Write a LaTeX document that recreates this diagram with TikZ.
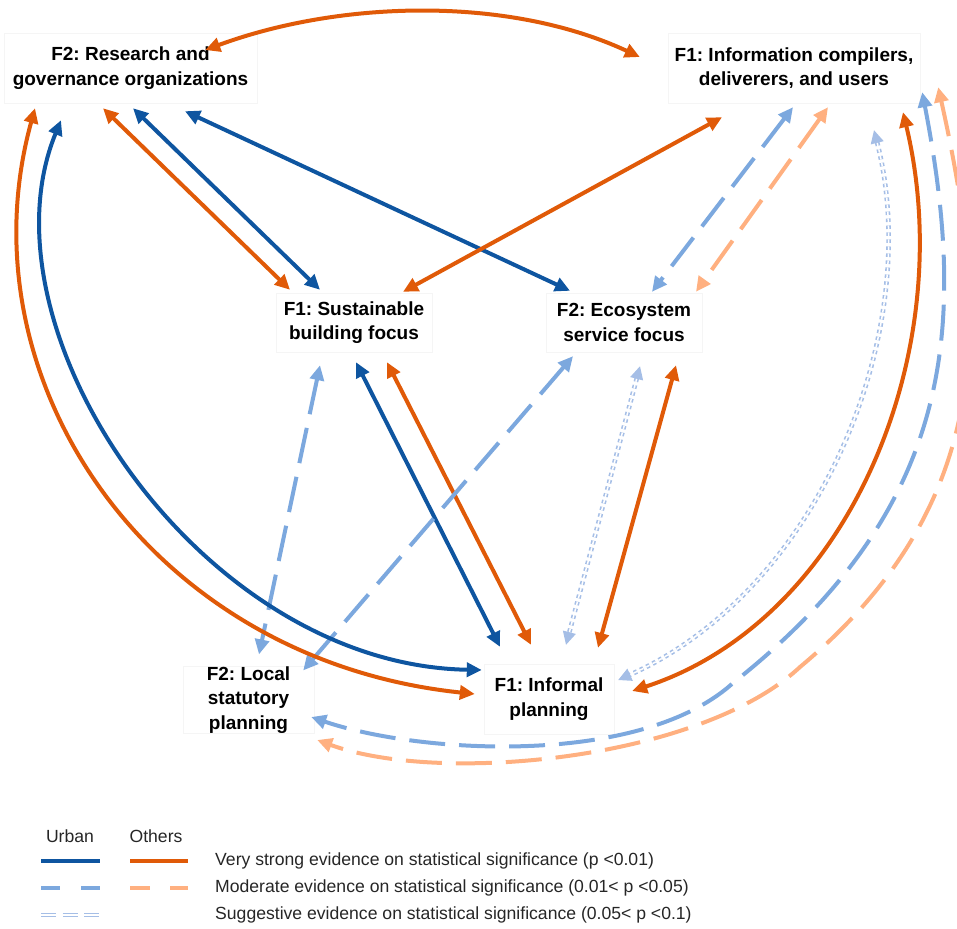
\documentclass[tikz,border=0pt]{standalone}
\usepackage{fontspec}
\setmainfont{Liberation Sans}
\usetikzlibrary{arrows.meta}

\definecolor{urbanblue}{RGB}{14,85,160}
\definecolor{othersorange}{RGB}{224,90,8}
\definecolor{urbanlight}{RGB}{124,168,222}
\definecolor{otherslight}{RGB}{255,176,128}
\definecolor{urbanpale}{RGB}{165,190,230}

\tikzset{
  factor/.style={draw=black!4, align=center, inner sep=0pt,
    font=\fontsize{19}{24.5}\selectfont\bfseries\frenchspacing},
  legtext/.style={font=\fontsize{17.6}{20}\selectfont\frenchspacing, text=black!85, inner sep=0pt},
  veryU/.style={draw=urbanblue, line width=4pt, <->},
  veryO/.style={draw=othersorange, line width=4pt, <->},
  modU/.style={draw=urbanlight, line width=4pt, dash pattern=on 36pt off 14pt, <->},
  modO/.style={draw=otherslight, line width=4pt, dash pattern=on 36pt off 14pt, <->},
  sugU/.style={draw=urbanpale, line width=1.6pt, double=white, double distance=1.5pt,
    dash pattern=on 3.5pt off 3.5pt, <->, >={Triangle[length=13pt,width=13pt]}},
}

\begin{document}
\begin{tikzpicture}[x=1pt, y=-1pt, >={Triangle[length=15pt,width=14pt]}]

        \useasboundingbox (0,0) rectangle (957,928);

        \begin{scope}[every node/.style={factor}]
          \node[minimum width=253pt, minimum height=70pt] (1) at (130.5,68)  {F2: Research and\\governance organizations};
          \node[minimum width=252pt, minimum height=70pt] (2) at (794,68)    {F1: Information compilers,\\deliverers, and users};
          \node[minimum width=156pt, minimum height=59pt] (3) at (354,322.5) {F1: Sustainable\\building focus};
          \node[minimum width=156pt, minimum height=59pt] (4) at (624,322.5) {F2: Ecosystem\\service focus};
          \node[minimum width=131pt, minimum height=66pt] (5) at (248.5,700) {F2: Local\\statutory\\planning};
          \node[minimum width=130pt, minimum height=70pt] (6) at (549,699)   {F1: Informal\\planning};
        \end{scope}

        % straight links
        \begin{scope}[every edge/.style={draw}]
          \path ([xshift=-27.5pt,yshift=-5pt]1.south) edge[veryO] ([xshift=-64pt,yshift=3pt]3.north);
          \path ([xshift=2.5pt,yshift=-5pt]1.south)   edge[veryU] ([xshift=-34pt,yshift=3pt]3.north);
          \path ([xshift=54.5pt,yshift=-8pt]1.south)  edge[veryU] ([xshift=-54pt,yshift=2pt]4.north);
          \path ([xshift=-72pt,yshift=-14pt]2.south)  edge[veryO] ([xshift=49pt,yshift=1pt]3.north);
          \path ([xshift=-1pt,yshift=-4pt]2.south)    edge[modU]  ([xshift=28pt,yshift=1pt]4.north);
          \path ([xshift=34pt,yshift=-4pt]2.south)    edge[modO]  ([xshift=72pt,yshift=1pt]4.north);
          \path ([xshift=-34pt,yshift=-13pt]3.south)  edge[modU]  ([xshift=10.5pt,yshift=12pt]5.north);
          \path ([xshift=2pt,yshift=-10pt]3.south)    edge[veryU] ([xshift=-49pt,yshift=17pt]6.north);
          \path ([xshift=33pt,yshift=-10pt]3.south)   edge[veryO] ([xshift=-18pt,yshift=19pt]6.north);
          \path ([xshift=-51pt,yshift=-4pt]4.south)   edge[modU]  ([xshift=-11pt,yshift=-4pt]5.north east);
          \path ([xshift=16pt,yshift=-14pt]4.south)   edge[sugU]  ([xshift=17pt,yshift=19pt]6.north);
          \path ([xshift=52pt,yshift=-13pt]4.south)   edge[veryO] ([xshift=49pt,yshift=16pt]6.north);
        \end{scope}

        % curved links
        \draw[veryO] ([xshift=-52pt,yshift=18pt]1.east) .. controls (341,0) and (509,-4) .. ([xshift=-28pt,yshift=11pt]2.west);
        \draw[veryO] ([xshift=-95.5pt,yshift=-5pt]1.south) .. controls (-40,380) and (150,660) .. ([xshift=-9pt,yshift=5pt]6.west);
        \draw[veryU] ([xshift=-69.5pt,yshift=-17pt]1.south) .. controls (-25,330) and (200,665) .. ([xshift=-2pt,yshift=29pt]6.west);
        \draw[veryO] ([xshift=109pt,yshift=-9pt]2.south) .. controls (960,350) and (850,620) .. ([xshift=18pt,yshift=8pt]6.east);
        \draw[sugU] ([xshift=80pt,yshift=-27pt]2.south) .. controls (925,330) and (820,590) .. ([xshift=4pt,yshift=19pt]6.east);
        \draw[modU] ([xshift=2pt,yshift=11pt]2.south east) .. controls (968,330) and (953,509) .. (733,683)
          .. controls (640,767) and (420,754) .. ([xshift=-3pt,yshift=-17pt]5.east);
        \draw[modO] ([xshift=18pt,yshift=16pt]2.south east) .. controls (990,320) and (995,504) .. (800,667)
          .. controls (700,760) and (440,785) .. ([xshift=3pt,yshift=-40pt]5.east);

        % legend
        \begin{scope}[every node/.style={legtext}]
          \node (7)  at (70,836)  {Urban};
          \node (8)  at (156,836) {Others};
          \node[anchor=west] (9)  at (215,861) {Very strong evidence on statistical significance (p <0.01)};
          \node[anchor=west] (10) at (215,888) {Moderate evidence on statistical significance (0.01< p <0.05)};
          \node[anchor=west] (11) at (215,915) {Suggestive evidence on statistical significance (0.05< p <0.1)};
        \end{scope}

        \draw[urbanblue, line width=4.5pt] (41,861) -- (100,861);
        \draw[othersorange, line width=4.5pt] (130,861) -- (188,861);
        \draw[urbanlight, line width=4.5pt, dash pattern=on 19pt off 21pt] (41,888) -- (100,888);
        \draw[otherslight, line width=4.5pt, dash pattern=on 20pt off 20pt] (130,888) -- (188,888);
        \draw[urbanpale, line width=1.5pt, double=white, double distance=1.8pt, dash pattern=on 15pt off 6.5pt] (41,915) -- (99,915);

      \end{tikzpicture}
\end{document}
